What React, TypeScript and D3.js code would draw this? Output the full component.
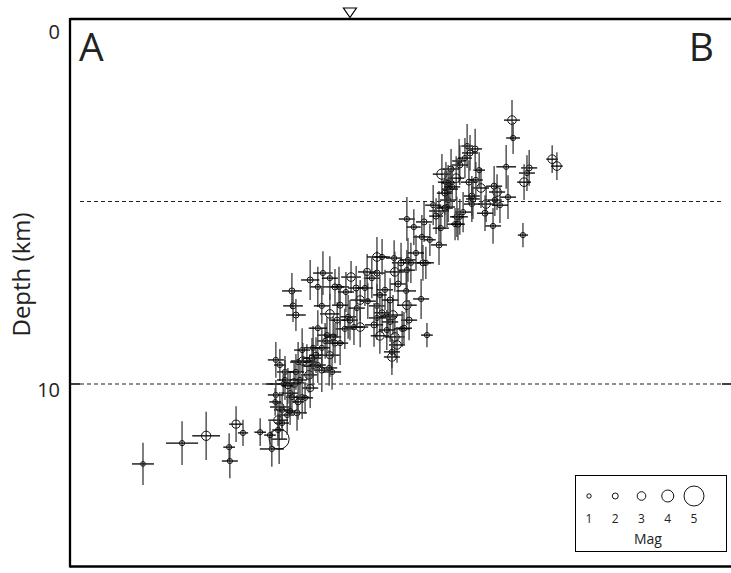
import React from "react";
import * as d3 from "d3";

// Earthquake hypocentres along profile A-B: [distance km, depth km, magnitude, x-error km, depth-error km]
const events: [number, number, number, number, number][] = [
  [2.00, 12.19, 1.2, 0.30, 0.58], [3.07, 11.62, 1.5, 0.44, 0.60], [3.73, 11.42, 3.2, 0.38, 0.66],
  [4.55, 11.10, 2.8, 0.19, 0.49], [4.74, 11.34, 1.5, 0.14, 0.36], [4.36, 11.73, 1.5, 0.16, 0.38],
  [4.38, 12.11, 1.5, 0.22, 0.47], [5.21, 11.32, 1.5, 0.16, 0.38], [5.73, 11.51, 5.0, 0.22, 0.68],
  [5.53, 11.78, 1.5, 0.33, 0.49],
  [5.84, 10.00, 1.2, 0.47, 0.27], [6.14, 9.97, 3.0, 0.27, 0.55], [6.03, 10.25, 1.5, 0.22, 0.60],
  [6.08, 10.36, 1.5, 0.16, 0.41], [5.75, 10.63, 2.8, 0.27, 0.41], [5.81, 10.71, 1.5, 0.22, 0.49],
  [5.95, 10.85, 1.5, 0.19, 0.55], [6.22, 10.79, 2.0, 0.27, 0.49], [6.03, 10.74, 1.5, 0.16, 0.38],
  [5.70, 10.99, 3.0, 0.27, 0.49], [5.81, 11.07, 1.5, 0.19, 0.44], [6.55, 9.75, 3.0, 0.22, 0.49],
  [6.58, 10.11, 2.5, 0.22, 0.55], [6.66, 9.51, 1.5, 0.27, 0.55], [6.90, 9.62, 2.0, 0.22, 0.60],
  [7.18, 9.67, 1.5, 0.25, 0.49], [6.36, 10.36, 1.5, 0.19, 0.60], [6.25, 10.49, 2.0, 0.16, 0.49],
  [6.44, 10.38, 1.5, 0.22, 0.44], [6.49, 9.40, 3.0, 0.27, 0.49], [5.64, 10.30, 1.5, 0.22, 0.41],
  [5.62, 10.49, 1.2, 0.16, 0.38], [5.89, 9.67, 1.5, 0.22, 0.44], [5.70, 11.26, 1.5, 0.16, 0.44],
  [5.48, 11.40, 1.5, 0.16, 0.38],
  [6.25, 9.40, 1.5, 0.22, 0.55], [6.38, 9.37, 3.0, 0.33, 0.49], [6.63, 9.29, 2.0, 0.27, 0.55],
  [6.79, 9.48, 1.5, 0.22, 0.49], [7.12, 9.21, 2.5, 0.27, 0.60], [7.10, 9.56, 1.5, 0.22, 0.49],
  [6.66, 9.01, 1.5, 0.25, 0.60], [7.26, 8.88, 2.0, 0.27, 0.55], [6.99, 8.82, 1.5, 0.22, 0.49],
  [7.04, 8.66, 1.5, 0.27, 0.49], [7.21, 8.71, 2.0, 0.22, 0.55], [7.40, 8.88, 1.5, 0.22, 0.60],
  [7.53, 8.49, 1.5, 0.25, 0.55], [7.32, 8.25, 2.0, 0.22, 0.49], [7.12, 8.08, 3.0, 0.27, 0.55],
  [7.62, 8.16, 1.5, 0.22, 0.60], [7.67, 8.25, 2.0, 0.22, 0.55], [7.78, 8.44, 1.5, 0.25, 0.49],
  [7.95, 8.44, 3.0, 0.22, 0.55], [7.86, 7.92, 1.5, 0.22, 0.49], [7.95, 7.70, 3.0, 0.27, 0.55],
  [8.16, 7.73, 1.5, 0.22, 0.49], [7.37, 7.34, 1.5, 0.27, 0.55], [7.26, 7.34, 2.0, 0.25, 0.49],
  [6.79, 7.34, 1.5, 0.22, 0.55], [6.58, 7.15, 2.0, 0.25, 0.55], [6.93, 6.96, 1.5, 0.27, 0.60],
  [7.12, 7.10, 1.5, 0.22, 0.60], [7.70, 7.07, 3.0, 0.27, 0.44], [8.14, 6.93, 2.5, 0.25, 0.49],
  [8.27, 7.10, 1.5, 0.22, 0.55], [8.41, 6.96, 2.0, 0.22, 0.60], [8.41, 6.52, 3.0, 0.27, 0.55],
  [8.88, 6.55, 1.5, 0.22, 0.49], [9.07, 6.68, 2.0, 0.25, 0.55], [9.26, 6.60, 1.5, 0.22, 0.60],
  [9.34, 6.68, 1.5, 0.22, 0.55], [9.67, 6.68, 2.0, 0.22, 0.49], [9.75, 6.68, 1.5, 0.22, 0.44],
  [8.90, 6.93, 3.0, 0.27, 0.55], [9.23, 6.88, 1.5, 0.22, 0.55], [8.99, 7.26, 2.0, 0.22, 0.60],
  [9.21, 7.45, 1.5, 0.27, 0.60], [9.62, 7.67, 1.5, 0.22, 0.55], [9.23, 7.84, 3.0, 0.27, 0.55],
  [9.29, 8.25, 2.0, 0.22, 0.55], [9.78, 8.66, 1.5, 0.16, 0.33], [8.41, 7.86, 1.5, 0.22, 0.60],
  [8.55, 8.05, 2.0, 0.22, 0.55], [8.41, 8.19, 1.5, 0.22, 0.60], [8.71, 8.16, 1.5, 0.25, 0.49],
  [8.85, 8.11, 3.0, 0.27, 0.55], [8.77, 8.30, 1.5, 0.22, 0.55], [8.33, 8.38, 2.0, 0.25, 0.60],
  [8.49, 8.68, 3.0, 0.25, 0.49], [8.68, 8.52, 1.5, 0.22, 0.55], [8.90, 8.71, 3.0, 0.27, 0.55],
  [9.10, 8.49, 1.5, 0.22, 0.49], [9.15, 8.47, 2.0, 0.22, 0.44], [8.96, 8.93, 3.0, 0.22, 0.49],
  [8.82, 9.26, 3.0, 0.22, 0.49], [8.82, 9.12, 1.5, 0.22, 0.44],
  [6.08, 7.45, 2.0, 0.27, 0.49], [6.11, 7.86, 2.0, 0.27, 0.44], [6.19, 8.11, 2.0, 0.27, 0.44],
  [5.64, 9.34, 1.5, 0.22, 0.49], [5.75, 9.48, 1.5, 0.16, 0.44],
  [9.23, 5.48, 1.5, 0.22, 0.60], [9.42, 5.70, 1.5, 0.19, 0.49], [9.70, 5.56, 2.0, 0.22, 0.55],
  [9.64, 5.97, 1.5, 0.22, 0.60], [10.11, 6.19, 2.0, 0.22, 0.55], [9.48, 6.41, 1.5, 0.22, 0.49],
  [8.55, 6.52, 1.5, 0.22, 0.49], [9.86, 6.05, 1.5, 0.16, 0.44],
  [12.11, 2.77, 3.0, 0.22, 0.55], [12.14, 3.26, 1.5, 0.19, 0.44], [13.21, 3.84, 3.0, 0.16, 0.38],
  [13.34, 4.03, 3.0, 0.16, 0.38], [11.95, 4.05, 1.5, 0.27, 0.60], [12.58, 4.08, 2.0, 0.22, 0.49],
  [12.52, 4.22, 1.5, 0.22, 0.49], [12.44, 4.47, 3.0, 0.19, 0.49], [12.41, 5.92, 1.5, 0.14, 0.33],
  [12.00, 4.88, 1.5, 0.22, 0.60], [11.59, 5.67, 1.5, 0.22, 0.49], [11.70, 4.74, 3.0, 0.22, 0.49],
  [11.62, 4.58, 2.0, 0.22, 0.55], [11.40, 5.07, 3.0, 0.22, 0.49], [11.26, 4.63, 3.0, 0.22, 0.55],
  [11.10, 3.56, 2.0, 0.19, 0.55], [10.88, 3.48, 1.5, 0.16, 0.60], [10.96, 3.67, 2.0, 0.22, 0.49],
  [10.66, 3.89, 1.5, 0.19, 0.60], [10.68, 4.00, 2.0, 0.22, 0.55], [10.19, 4.25, 3.5, 0.25, 0.55],
  [10.44, 4.11, 2.0, 0.22, 0.55], [10.58, 4.36, 3.0, 0.22, 0.60], [10.30, 4.47, 1.5, 0.22, 0.55],
  [10.93, 4.47, 2.0, 0.22, 0.60], [10.36, 4.96, 1.5, 0.22, 0.60], [10.11, 5.26, 3.0, 0.27, 0.55],
  [10.27, 5.18, 2.0, 0.22, 0.55], [10.77, 5.29, 1.5, 0.22, 0.55], [10.60, 5.42, 2.0, 0.19, 0.55],
  [10.68, 5.42, 1.5, 0.22, 0.49], [10.55, 5.62, 1.5, 0.22, 0.44], [10.63, 5.62, 2.0, 0.19, 0.44],
  [11.01, 4.85, 2.0, 0.22, 0.55], [11.01, 5.07, 1.5, 0.22, 0.49], [11.04, 4.93, 2.0, 0.19, 0.55],
  [10.33, 5.15, 1.5, 0.22, 0.55], [10.41, 4.66, 2.0, 0.22, 0.55], [10.36, 4.49, 1.5, 0.19, 0.49],
  [10.27, 4.77, 2.0, 0.22, 0.60], [10.47, 4.60, 1.5, 0.22, 0.55], [10.82, 3.81, 1.5, 0.19, 0.55],
  [9.95, 5.10, 1.5, 0.22, 0.55], [10.03, 5.40, 2.0, 0.19, 0.49], [10.16, 5.73, 1.5, 0.22, 0.49],
  [11.12, 4.41, 1.5, 0.19, 0.49], [11.21, 4.14, 1.5, 0.16, 0.49], [11.64, 4.96, 1.5, 0.19, 0.44],
  [11.78, 5.10, 1.5, 0.22, 0.49], [11.37, 5.32, 2.0, 0.22, 0.49],
  [6.36, 9.07, 1.5, 0.22, 0.60], [6.74, 9.21, 2.0, 0.19, 0.49], [6.90, 9.01, 1.5, 0.22, 0.55],
  [6.79, 8.47, 1.5, 0.25, 0.49], [5.89, 9.89, 1.5, 0.22, 0.55], [5.97, 10.05, 2.0, 0.16, 0.49],
  [6.19, 9.67, 1.5, 0.22, 0.49], [6.30, 9.89, 1.5, 0.19, 0.55], [7.56, 7.48, 1.5, 0.22, 0.55],
  [7.84, 7.37, 2.0, 0.22, 0.60], [8.08, 7.37, 1.5, 0.22, 0.49], [8.63, 7.42, 1.5, 0.22, 0.55],
  [8.77, 7.70, 2.0, 0.22, 0.60], [8.49, 7.56, 1.5, 0.19, 0.55], [6.90, 7.86, 1.5, 0.22, 0.49],
  [7.40, 7.84, 2.0, 0.22, 0.55],
];

const depthTicks = [0, 10];
const referenceDepths = [5, 10];
const legendMags = [1, 2, 3, 4, 5];
const magRadius = [2.2, 3, 4.3, 6, 10];
const surfaceMarkerKm = 7.67;
const profileEnds = ["A", "B"];

const W = 731;
const H = 573;
const FONT = "'Open Sans', 'DejaVu Sans', sans-serif";

export default function App() {
  const x = d3.scaleLinear().domain([0, 18.11]).range([70, 731]);
  const y = d3.scaleLinear().domain([0, 15]).range([19, 566.5]);
  const r = d3.scaleLinear().domain(legendMags).range(magRadius).clamp(true);

  const left = x(0);
  const right = x.range()[1];
  const top = y(0);
  const bottom = y(15);
  const mx = x(surfaceMarkerKm);

  const legendX = d3.scaleLinear().domain([1, 5]).range([589, 694]);

  return (
    <svg width={W} height={H} style={{ position: "absolute", left: 0, top: 0, background: "#fff" }}>
      {referenceDepths.map((d) => (
        <line key={"ref" + d} x1={left + 10} x2={right - 9} y1={y(d)} y2={y(d)}
          stroke="#222" strokeWidth={1} strokeDasharray="4,3" />
      ))}
      {depthTicks.filter((d) => d > 0).map((d) => (
        <g key={"t" + d}>
          <line x1={left} x2={left + 10} y1={y(d)} y2={y(d)} stroke="#000" strokeWidth={1.5} />
          <line x1={right - 9} x2={right} y1={y(d)} y2={y(d)} stroke="#000" strokeWidth={1.5} />
        </g>
      ))}
      {events.map(([ex, ez, m, sx, sz], i) => (
        <g key={"e" + i}>
          <line x1={x(ex)} x2={x(ex)} y1={y(ez - sz)} y2={y(ez + sz)} stroke="#3a3a3a" strokeWidth={1.3} />
          <line x1={x(ex - sx)} x2={x(ex + sx)} y1={y(ez)} y2={y(ez)} stroke="#000" strokeWidth={1.3} />
          <circle cx={x(ex)} cy={y(ez)} r={r(m)} fill="none" stroke="#111" strokeWidth={1} />
        </g>
      ))}
      <line x1={left} x2={right} y1={top} y2={top} stroke="#000" strokeWidth={2.3} />
      <line x1={left} x2={right} y1={bottom} y2={bottom} stroke="#000" strokeWidth={2.3} />
      <line x1={left} x2={left} y1={top - 1} y2={bottom + 1} stroke="#000" strokeWidth={2.3} />
      <path d={`M${mx - 6.5},${top - 11}L${mx + 6.5},${top - 11}L${mx},${top - 1.5}Z`}
        fill="#fff" stroke="#000" strokeWidth={1.2} />
      {depthTicks.map((d) => (
        <text key={"l" + d} x={left - 10} y={d === 0 ? y(d) + 20 : y(d) + 13} textAnchor="end"
          fontFamily={FONT} fontSize={20} fill="#222">{d}</text>
      ))}
      <text transform={`translate(30,${y(7)}) rotate(-90)`} textAnchor="middle" fontFamily={FONT}
        fontSize={24} fill="#222">Depth (km)</text>
      <text x={left + 9} y={61} fontFamily={FONT} fontSize={39} fill="#222">{profileEnds[0]}</text>
      <text x={right - 17} y={61} textAnchor="end" fontFamily={FONT} fontSize={39} fill="#222">{profileEnds[1]}</text>
      <rect x={575.5} y={475.5} width={151} height={76} fill="#fff" stroke="#000" strokeWidth={1} />
      {legendMags.map((m) => (
        <g key={"lg" + m}>
          <circle cx={legendX(m)} cy={496} r={r(m)} fill="none" stroke="#111" strokeWidth={1} />
          <text x={legendX(m)} y={523} textAnchor="middle" fontFamily={FONT} fontSize={12} fill="#222">{m}</text>
        </g>
      ))}
      <text x={648} y={544} textAnchor="middle" fontFamily={FONT} fontSize={14} fill="#222">Mag</text>
    </svg>
  );
}
